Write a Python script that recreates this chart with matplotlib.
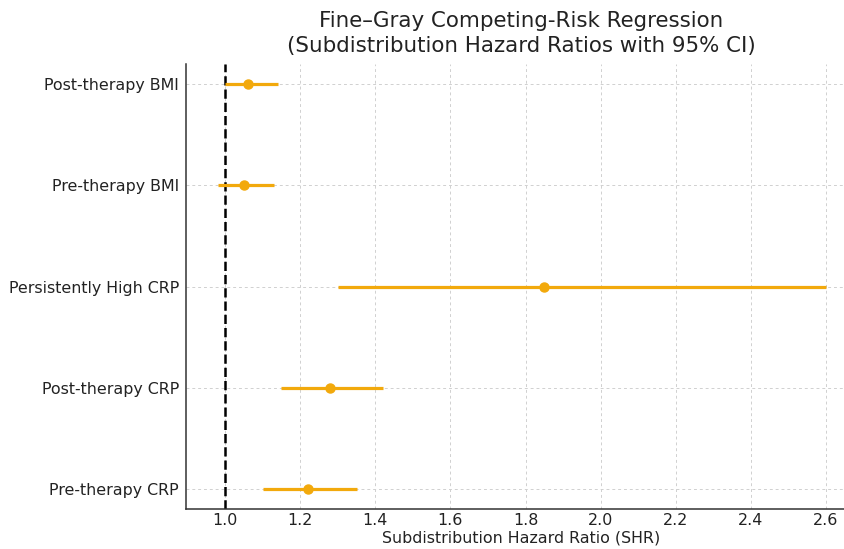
import matplotlib
matplotlib.use("Agg")
import matplotlib.pyplot as plt

variables = ["Pre-therapy CRP", "Post-therapy CRP", "Persistently High CRP",
             "Pre-therapy BMI", "Post-therapy BMI"]
shr = [1.22, 1.28, 1.85, 1.05, 1.06]
ci_low = [1.10, 1.15, 1.30, 0.98, 1.00]
ci_high = [1.35, 1.42, 2.60, 1.13, 1.14]
xticks = [1.0, 1.2, 1.4, 1.6, 1.8, 2.0, 2.2, 2.4, 2.6]

color = "#F2A90C"

fig = plt.figure(figsize=(8.45, 5.49), dpi=100)
ax = fig.add_axes([186/845, 1 - 509/549, (856 - 186)/845, (509 - 64)/549])

ypos = list(range(len(variables)))
err_lo = [s - l for s, l in zip(shr, ci_low)]
err_hi = [h - s for s, h in zip(shr, ci_high)]
ax.errorbar(shr, ypos, xerr=[err_lo, err_hi], fmt="o", color=color,
            ecolor=color, elinewidth=2.3, capsize=0, markersize=6.5, zorder=3)
ax.axvline(1.0, color="black", linestyle="--", linewidth=1.8, zorder=2)

ax.set_yticks(ypos)
ax.set_yticklabels(variables, fontsize=11.4, color="#222222")
ax.set_xticks(xticks)
ax.set_xticklabels([f"{t:.1f}" for t in xticks], fontsize=11.4, color="#222222")
ax.set_xlim(0.896, 2.68)
ax.set_ylim(-0.2, 4.2)
ax.tick_params(axis="x", length=0, pad=3)
ax.tick_params(axis="y", length=0, pad=5)
ax.grid(True, linestyle=(0, (3, 3)), color="#d0d0d0", linewidth=0.7)
ax.set_axisbelow(True)
for s in ["top", "right"]:
    ax.spines[s].set_visible(False)
ax.spines["left"].set_color("#333333")
ax.spines["bottom"].set_color("#333333")
ax.spines["left"].set_linewidth(1.1)
ax.spines["bottom"].set_linewidth(1.1)

ax.set_xlabel("Subdistribution Hazard Ratio (SHR)", fontsize=11.4, color="#222222",
              labelpad=2)
fig.text((186 + 856) / 2 / 845, 1 - 11/549,
         "Fine–Gray Competing-Risk Regression\n(Subdistribution Hazard Ratios with 95% CI)",
         ha="center", va="top", fontsize=15.4, color="#222222", linespacing=1.3)

fig.savefig("out.png", dpi=100)
